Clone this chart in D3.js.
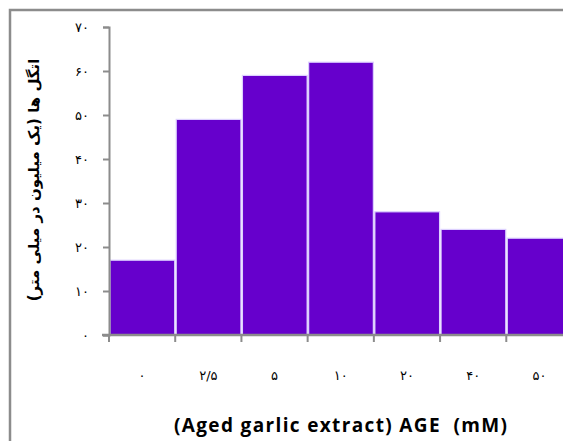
<!DOCTYPE html>
<html>
<head>
<meta charset="utf-8">
<script src="https://d3js.org/d3.v7.min.js"></script>
<style>
  body { margin: 0; background: #fff; }
</style>
</head>
<body>
<div id="container"></div>
<script>
  // svg dimensions
  var width = 563
  var height = 441

  // data
  var categories = ["۰", "۲/۵", "۵", "۱۰", "۲۰", "۴۰", "۵۰"];
  var values = [17, 49, 59, 62, 28, 24, 22];
  var yTicks = [0, 10, 20, 30, 40, 50, 60, 70];
  var yTickLabels = ["۰", "۱۰", "۲۰", "۳۰", "۴۰", "۵۰", "۶۰", "۷۰"];

  var svg = d3.select("#container").append("svg")
    .attr("width", width)
    .attr("height", height);

  // outer frame (runs off the right and bottom edges)
  svg.append("rect")
    .attr("x", 10)
    .attr("y", 10)
    .attr("width", 600)
    .attr("height", 500)
    .attr("fill", "white")
    .attr("stroke", "#8c8c8c")
    .attr("stroke-width", 2.5);

  var x = d3.scaleBand()
    .domain(categories)
    .range([109, 572.5])
    .padding(0);

  var y = d3.scaleLinear()
    .domain([0, 70])
    .range([335, 27]);

  // bars
  svg.selectAll(".bar")
    .data(values)
    .enter().append("rect")
    .attr("class", "bar")
    .attr("x", function(d, i) { return x(categories[i]) + 1; })
    .attr("y", function(d) { return y(d); })
    .attr("width", x.bandwidth() - 1.5)
    .attr("height", function(d) { return y(0) - y(d); })
    .attr("fill", "#6600cc")
    .attr("stroke", "#ddd0ff")
    .attr("stroke-width", 1.2);

  // y axis
  var yAxis = svg.append("g")
    .attr("transform", "translate(109,0)")
    .call(d3.axisLeft(y).tickValues(yTicks).tickSize(6).tickFormat(function(d, i) { return yTickLabels[i]; }));

  yAxis.select(".domain").attr("stroke", "#8c8c8c").attr("stroke-width", 2);
  yAxis.selectAll(".tick line").attr("stroke", "#8c8c8c").attr("stroke-width", 2);
  yAxis.selectAll(".tick text")
    .attr("x", -20)
    .attr("font-family", "DejaVu Sans")
    .attr("font-size", 13)
    .attr("fill", "#000");

  // x axis
  var xAxis = svg.append("g")
    .attr("transform", "translate(0,335)")
    .call(d3.axisBottom(x).tickSize(0).tickSizeOuter(0));

  xAxis.select(".domain").attr("stroke", "#8c8c8c").attr("stroke-width", 2.5)
    .attr("d", "M102,0H572.5");
  xAxis.selectAll(".tick text")
    .attr("y", 40)
    .attr("dy", "0.35em")
    .attr("font-family", "DejaVu Sans")
    .attr("font-size", 13)
    .attr("fill", "#000");

  // x tick marks on the category boundaries
  svg.append("g").selectAll("line")
    .data(categories)
    .enter().append("line")
    .attr("x1", function(d) { return x(d); })
    .attr("x2", function(d) { return x(d); })
    .attr("y1", 335)
    .attr("y2", 342)
    .attr("stroke", "#8c8c8c")
    .attr("stroke-width", 2);

  // axis titles
  svg.append("text")
    .attr("x", 174)
    .attr("y", 432)
    .attr("font-family", "Open Sans")
    .attr("font-weight", "bold")
    .attr("font-size", 19)
    .attr("textLength", 333)
    .attr("lengthAdjust", "spacing")
    .attr("fill", "#000")
    .style("white-space", "pre")
    .text("(Aged garlic extract) AGE  (mM)");

  svg.append("text")
    .attr("transform", "translate(39,180) rotate(-90)")
    .attr("text-anchor", "middle")
    .attr("direction", "rtl")
    .attr("font-family", "DejaVu Sans")
    .attr("font-weight", "bold")
    .attr("font-size", 15)
    .attr("fill", "#000")
    .text("اتگل ها (یک میلیون در میلی متر)");
</script>
</body>
</html>
